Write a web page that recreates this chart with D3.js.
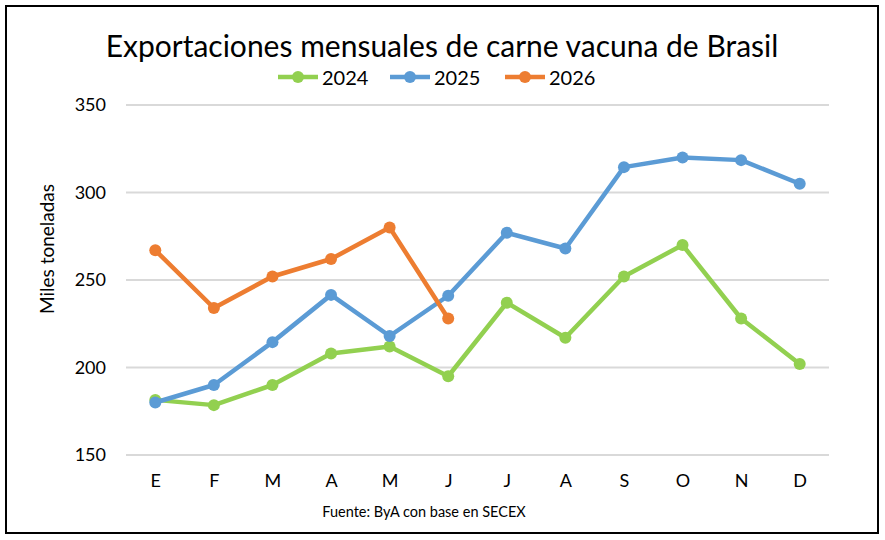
<!DOCTYPE html>
<html>
<head>
  <meta charset="utf-8">
  <script src="https://d3js.org/d3.v7.min.js"></script>
  <style>
    html, body { margin: 0; padding: 0; background: #ffffff; }
    svg { display: block; font-family: Lato, "Open Sans", sans-serif; }
  </style>
</head>
<body>
<svg id="chart" width="885" height="540"></svg>
<script>
"use strict";

// Chart data
const MONTHS = ["E", "F", "M", "A", "M", "J", "J", "A", "S", "O", "N", "D"];
const SERIES_NAMES = ["2024", "2025", "2026"];
const VALUES_2024 = [181.5, 178.5, 190, 208, 212, 195, 237, 217, 252, 270, 228, 202];
const VALUES_2025 = [180, 190, 214.5, 241.5, 218, 241, 277, 268, 314.5, 320, 318.5, 305];
const VALUES_2026 = [267, 234, 252, 262, 280, 228];
const Y_TICKS = [150, 200, 250, 300, 350];
const COLORS = ["#92D050", "#5B9BD5", "#ED7D31"];

const svg = d3.select("#chart");

// Outer frame
svg.append("rect")
  .attr("x", 6).attr("y", 6)
  .attr("width", 872).attr("height", 527)
  .attr("fill", "#fff")
  .attr("stroke", "#000")
  .attr("stroke-width", 2);

// Plot area
const x = d3.scalePoint()
  .domain(d3.range(MONTHS.length))
  .range([126, 829])
  .padding(0.5);

const y = d3.scaleLinear()
  .domain([150, 350])
  .range([455, 105]);

// Gridlines
svg.append("g")
  .selectAll("line")
  .data(Y_TICKS)
  .join("line")
    .attr("x1", 126).attr("x2", 829)
    .attr("y1", d => y(d)).attr("y2", d => y(d))
    .attr("stroke", "#d9d9d9")
    .attr("stroke-width", 2);

// Y axis labels
const yAxis = svg.append("g")
  .attr("transform", "translate(106,0)")
  .call(d3.axisLeft(y).tickValues(Y_TICKS).tickSize(0).tickPadding(0));
yAxis.select(".domain").remove();
yAxis.selectAll("text")
  .attr("font-family", "Lato, 'Open Sans', sans-serif")
  .attr("font-size", 18)
  .attr("fill", "#000");

// X axis labels
const xAxis = svg.append("g")
  .attr("transform", "translate(0,474)")
  .call(d3.axisBottom(x).tickFormat(i => MONTHS[i]).tickSize(0).tickPadding(0));
xAxis.select(".domain").remove();
xAxis.selectAll("text")
  .attr("font-family", "Lato, 'Open Sans', sans-serif")
  .attr("font-size", 18)
  .attr("fill", "#000");

// Axis title
svg.append("text")
  .attr("transform", "translate(54,249) rotate(-90)")
  .attr("text-anchor", "middle")
  .attr("font-size", 19)
  .text("Miles toneladas");

// Series
const seriesData = [VALUES_2024, VALUES_2025, VALUES_2026];
const line = d3.line()
  .x((d, i) => x(i))
  .y(d => y(d));

seriesData.forEach(function(vals, k) {
  const g = svg.append("g");
  g.append("path")
    .datum(vals)
    .attr("d", line)
    .attr("fill", "none")
    .attr("stroke", COLORS[k])
    .attr("stroke-width", 4.5)
    .attr("stroke-linejoin", "round");
  g.selectAll("circle")
    .data(vals)
    .join("circle")
      .attr("cx", (d, i) => x(i))
      .attr("cy", d => y(d))
      .attr("r", 6)
      .attr("fill", COLORS[k]);
});

// Title
svg.append("text")
  .attr("x", 442).attr("y", 57)
  .attr("text-anchor", "middle")
  .attr("font-size", 30)
  .text("Exportaciones mensuales de carne vacuna de Brasil");

// Legend
const legendX = [278, 390, 505];
const legend = svg.append("g")
  .selectAll("g")
  .data(SERIES_NAMES)
  .join("g")
    .attr("transform", (d, i) => "translate(" + legendX[i] + ",77)");
legend.append("line")
  .attr("x1", 0).attr("x2", 40)
  .attr("stroke", (d, i) => COLORS[i])
  .attr("stroke-width", 4.5);
legend.append("circle")
  .attr("cx", 20).attr("r", 6)
  .attr("fill", (d, i) => COLORS[i]);
legend.append("text")
  .attr("x", 44).attr("y", 7.5)
  .attr("font-size", 20)
  .text(d => d);

// Source note
svg.append("text")
  .attr("x", 424).attr("y", 517)
  .attr("text-anchor", "middle")
  .attr("font-size", 14.5)
  .text("Fuente: ByA con base en SECEX");
</script>
</body>
</html>
